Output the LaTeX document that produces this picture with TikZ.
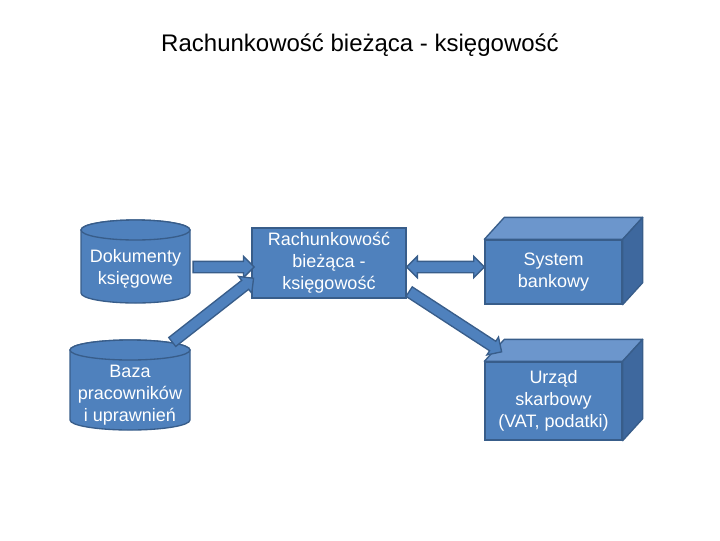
\documentclass[tikz,border=0pt]{standalone}
\usepackage{fontspec}
\setmainfont{Liberation Sans}
\usetikzlibrary{calc}
\usetikzlibrary{positioning}
\usetikzlibrary{shapes.arrows}
\definecolor{officeblue}{RGB}{79, 129, 189}
\definecolor{officeedge}{RGB}{56, 93, 138}
\definecolor{cubetop}{RGB}{108, 150, 204}
\definecolor{cubeside}{RGB}{62, 104, 158}

\tikzset{
  base/.style={draw=officeedge, fill=officeblue, line width=1pt, text=white,
               font=\fontsize{13.5}{16.5}\selectfont, align=center, inner sep=0pt},
  dbshape/.style={draw=officeedge, fill=officeblue, line width=1pt},
  dbtext/.style={text=white, font=\fontsize{13.5}{16.5}\selectfont, align=center, inner sep=0pt},
  procbox/.style={base, rectangle},
  cubeface/.style={draw=officeedge, line width=1pt, line join=round},
  blockarrow/.style={draw=officeedge, fill=officeblue, line width=1pt, single arrow,
               inner sep=3.75pt, single arrow head extend=3.75pt,
               single arrow head indent=0pt},
  twoarrow/.style={draw=officeedge, fill=officeblue, line width=1pt, double arrow,
               inner sep=3.75pt, double arrow head extend=3.75pt,
               double arrow head indent=0pt}
}

\begin{document}
\begin{tikzpicture}[x=0.75pt, y=-0.75pt]
            \useasboundingbox (0,0) rectangle (720,540);
            % Title
            \node[font=\fontsize{18}{22}\selectfont] (title) at (360,45) {Rachunkowość bieżąca - księgowość};
            % Databases (cylinders)
            \draw[dbshape] (81,230) -- (81,293) arc[start angle=180, end angle=360, x radius=40.875pt, y radius=7.5pt]
                 -- (190,230) arc[start angle=0, end angle=180, x radius=40.875pt, y radius=7.5pt] -- cycle;
            \draw[dbshape] (135.5,230) ellipse[x radius=40.875pt, y radius=7.5pt];
            \node[dbtext, minimum width=81.75pt] (dok) at (135.5,269) {Dokumenty\\księgowe};
            \draw[dbshape] (70,350) -- (70,420) arc[start angle=180, end angle=360, x radius=45pt, y radius=7.5pt]
                 -- (190,350) arc[start angle=0, end angle=180, x radius=45pt, y radius=7.5pt] -- cycle;
            \draw[dbshape] (130,350) ellipse[x radius=45pt, y radius=7.5pt];
            \node[dbtext, minimum width=90pt, minimum height=67.5pt] (baza) at (130,395) {Baza\\pracowników\\i uprawnień};
            % Process
            \node[procbox, minimum width=115.5pt, minimum height=52.5pt] (rach) at (329,263) {Rachunkowość\\bieżąca -\\księgowość};
            % External systems (cubes)
            \node[procbox, minimum width=102.75pt, minimum height=48pt] (bank) at (553.5,272) {System\\bankowy};
            \node[procbox, minimum width=102.75pt, minimum height=58.5pt] (urzad) at (553.5,401) {Urząd\\skarbowy\\(VAT, podatki)};
            \foreach \c in {bank, urzad} {
              \draw[cubeface, fill=cubetop] (\c.north west) -- ++(20,-22) -- ($(\c.north east)+(20,-22)$) -- (\c.north east) -- cycle;
              \draw[cubeface, fill=cubeside] (\c.north east) -- ++(20,-22) -- ($(\c.south east)+(20,-22)$) -- (\c.south east) -- cycle;
            }
            % Arrow end points
            \coordinate (dokOut) at ($(dok.east)+(0,-2)$);
            \coordinate (rachInA) at ($(rach.west)+(0,4)$);
            \coordinate (bazaOut) at ($(baza.north)+(40,-6)$);
            \coordinate (rachInB) at ($(rach.west)+(0,17)$);
            \coordinate (rachOutA) at ($(rach.east)+(0,4)$);
            \coordinate (bankIn) at ($(bank.west)+(0,-5)$);
            \coordinate (rachOutB) at ($(rach.east)+(0,27)$);
            \coordinate (urzadIn) at ($(urzad.north west)+(15,-11)$);
            % Arrows
            \path let \p1=($(rachInA)-(dokOut)$), \n1={veclen(\x1,\y1)}, \n2={atan2(\y1,\x1)} in
                 node[blockarrow, minimum height=\n1, rotate=\n2] (arrDok) at ($(dokOut)!0.5!(rachInA)$) {};
            \path let \p1=($(rachInB)-(bazaOut)$), \n1={veclen(\x1,\y1)}, \n2={atan2(\y1,\x1)} in
                 node[blockarrow, minimum height=\n1, rotate=\n2] (arrBaza) at ($(bazaOut)!0.5!(rachInB)$) {};
            \path let \p1=($(bankIn)-(rachOutA)$), \n1={veclen(\x1,\y1)}, \n2={atan2(\y1,\x1)} in
                 node[twoarrow, minimum height=\n1, rotate=\n2] (arrBank) at ($(rachOutA)!0.5!(bankIn)$) {};
            \path let \p1=($(urzadIn)-(rachOutB)$), \n1={veclen(\x1,\y1)}, \n2={atan2(\y1,\x1)} in
                 node[blockarrow, minimum height=\n1, rotate=\n2] (arrUrzad) at ($(rachOutB)!0.5!(urzadIn)$) {};
\end{tikzpicture}
\end{document}
